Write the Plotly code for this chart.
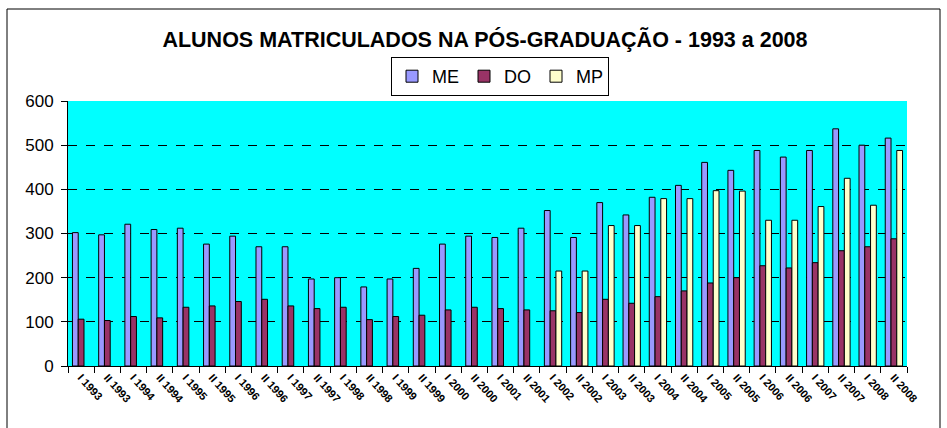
import plotly.graph_objects as go

categories = []
for y in range(1993, 2009):
    categories += [f"I {y}", f"II {y}"]

me_values = [302, 297, 321, 309, 312, 276, 294, 270, 270, 197, 200, 179,
             197, 221, 276, 294, 291, 312, 352, 291, 370, 342, 382, 409,
             461, 443, 488, 473, 488, 537, 500, 516]
do_values = [106, 103, 112, 109, 133, 136, 146, 151, 136, 130, 133, 105,
             112, 115, 127, 133, 130, 127, 125, 121, 151, 142, 157, 170,
             188, 200, 227, 222, 234, 261, 270, 288]
mp_values = [None] * 18 + [215, 215, 318, 318, 379, 379, 397, 396,
                           330, 330, 361, 425, 364, 488]

series = [("ME", me_values, "#9999FF"),
          ("DO", do_values, "#993366"),
          ("MP", mp_values, "#FFFFCC")]

fig = go.Figure()
for name, vals, color in series:
    fig.add_trace(go.Bar(
        x=categories, y=vals, name=name,
        marker=dict(color=color, line=dict(color="black", width=1)),
    ))

W, H = 947, 428
L, R, T, B = 68, 40, 101, 62
pw, ph = W - L - R, H - T - B

def px_to_paper_x(px):
    return (px - L) / pw

def px_to_paper_y(py):
    return (H - B - py) / ph

FONT = "Liberation Sans, Arial, sans-serif"

fig.update_layout(
    width=W, height=H,
    margin=dict(l=L, r=R, t=T, b=B, pad=0, autoexpand=False),
    paper_bgcolor="white",
    plot_bgcolor="#00FFFF",
    barmode="group",
    bargap=0.34,
    bargroupgap=0,
    font=dict(family=FONT, color="black"),
    title=dict(
        text="<b>ALUNOS MATRICULADOS NA PÓS-GRADUAÇÃO - 1993 a 2008</b>",
        x=px_to_paper_x(485), xref="paper", xanchor="center",
        y=1 - 39 / H, yref="container", yanchor="middle",
        font=dict(size=21.5, family=FONT),
    ),
    legend=dict(
        orientation="h",
        x=px_to_paper_x(500), xanchor="center",
        y=px_to_paper_y(57), yanchor="top",
        bordercolor="black", borderwidth=1,
        bgcolor="white",
        font=dict(size=18),
        itemwidth=30,
        tracegroupgap=0,
    ),
    showlegend=True,
    xaxis=dict(
        type="category",
        tickangle=48,
        tickfont=dict(size=11, family=FONT, weight="bold"),
        showline=True, linecolor="black", linewidth=1,
        ticks="outside", ticklen=6, tickcolor="black",
        tickson="boundaries",
        showgrid=False,
        mirror=False,
    ),
    yaxis=dict(
        range=[0, 600],
        tickvals=[0, 100, 200, 300, 400, 500, 600],
        tickfont=dict(size=17),
        ticklabelstandoff=4,
        showline=True, linecolor="black", linewidth=1,
        ticks="outside", ticklen=6, tickcolor="black",
        showgrid=True, gridcolor="black", gridwidth=1,
        griddash="dash",
        zeroline=False,
    ),
    shapes=[
        dict(type="rect", xref="paper", yref="paper",
             x0=px_to_paper_x(7), x1=px_to_paper_x(940),
             y0=px_to_paper_y(440), y1=px_to_paper_y(9),
             line=dict(color="black", width=1), fillcolor="rgba(0,0,0,0)",
             layer="below"),
    ],
)

fig.write_html("out.html",
               config={"displayModeBar": False},
               post_script="document.body.style.margin='0';document.body.style.overflow='hidden';")
